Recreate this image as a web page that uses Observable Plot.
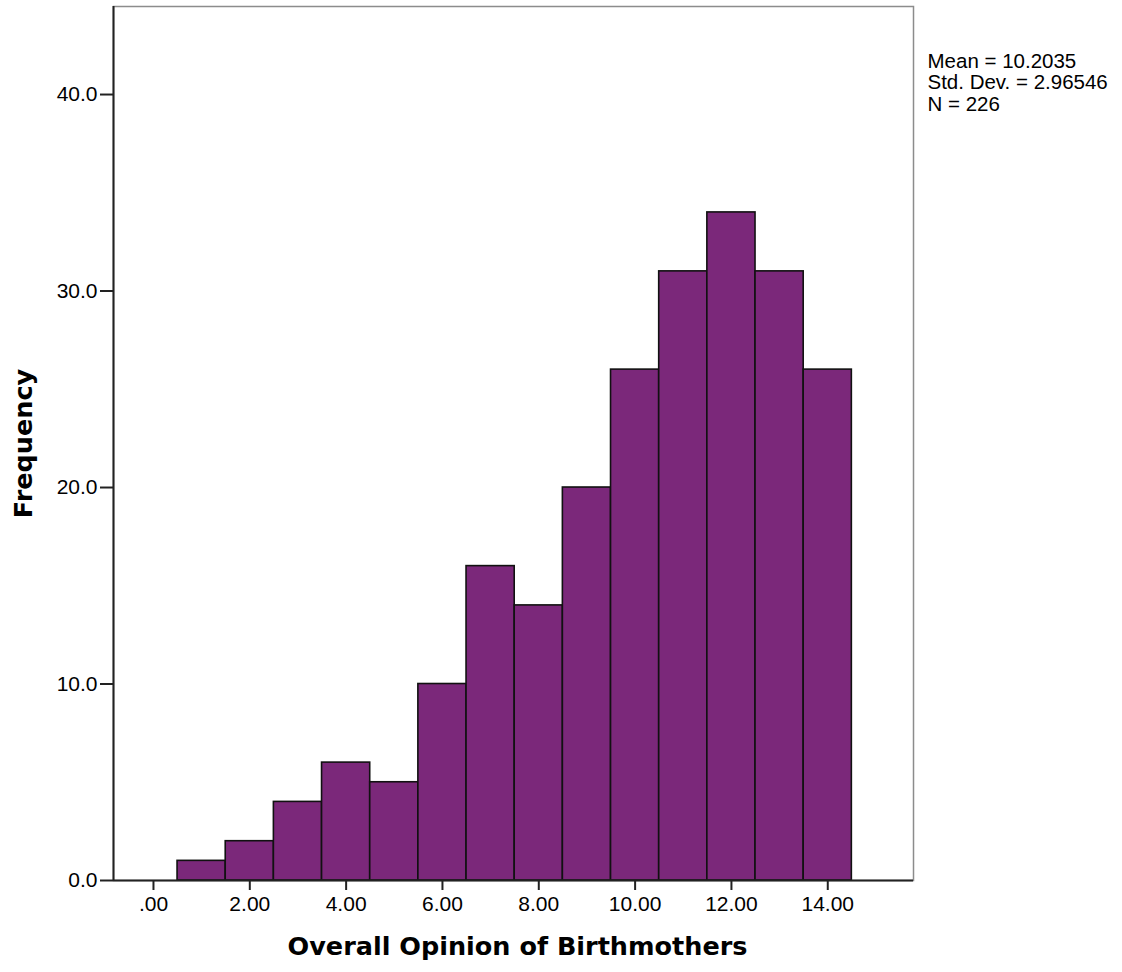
<!DOCTYPE html>
<html>
<head>
<meta charset="utf-8">
<script src="https://cdn.jsdelivr.net/npm/d3@7"></script>
<script src="https://cdn.jsdelivr.net/npm/@observablehq/plot@0.6"></script>
<style>
  html, body { margin: 0; padding: 0; background: #fff; }
  #chart svg { display: block; }
</style>
</head>
<body>
<div id="chart"></div>
<script>
// Histogram bins (centre of each unit-wide bin) and frequencies
const binCenters = [1, 2, 3, 4, 5, 6, 7, 8, 9, 10, 11, 12, 13, 14];
const counts     = [1, 2, 4, 6, 5, 10, 16, 14, 20, 26, 31, 34, 31, 26];
const binWidth = 1;

const xTicks = [0, 2, 4, 6, 8, 10, 12, 14];
const yTicks = [0, 10, 20, 30, 40];
const xLabel = "Overall Opinion of Birthmothers";
const yLabel = "Frequency";
const statsLines = ["Mean = 10.2035", "Std. Dev. = 2.96546", "N = 226"];

const bins = binCenters.map((c, i) => ({x1: c - binWidth / 2, x2: c + binWidth / 2, count: counts[i]}));

const fmtX = d => d === 0 ? ".00" : d.toFixed(2);
const fmtY = d => d.toFixed(1);

const chart = Plot.plot({
  width: 1122,
  height: 972,
  marginLeft: 113,
  marginRight: 209,
  marginTop: 6,
  marginBottom: 92,
  style: {fontFamily: "'Liberation Sans', Arial, sans-serif", fontSize: "21px", background: "#fff", color: "#000"},
  x: {domain: [-0.83, 15.78], label: null},
  y: {domain: [0, 44.48], label: null},
  marks: [
    Plot.frame({stroke: "#8c8c8c", strokeWidth: 1.5}),
    Plot.rectY(bins, {x1: "x1", x2: "x2", y: "count", fill: "#7b287a", stroke: "#111", strokeWidth: 1.6}),
    Plot.ruleX([-0.83], {stroke: "#222", strokeWidth: 2}),
    Plot.ruleY([0], {stroke: "#222", strokeWidth: 2}),
    Plot.axisX({ticks: xTicks, tickFormat: fmtX, tickSize: 10, tickPadding: 6, fontSize: 21, stroke: "#222", strokeWidth: 2, label: null}),
    Plot.axisY({ticks: yTicks, tickFormat: fmtY, tickSize: 13, tickPadding: 3, fontSize: 21, stroke: "#222", strokeWidth: 2, label: null}),
    Plot.text([xLabel], {frameAnchor: "bottom", text: d => d, dy: 66.5, dx: 4, lineAnchor: "middle", textAnchor: "middle",
      fontFamily: "'DejaVu Sans', Verdana, sans-serif", fontWeight: "bold", fontSize: 25.5, fill: "#000"}),
    Plot.text([yLabel], {frameAnchor: "left", text: d => d, rotate: -90, dx: -90, dy: 0, lineAnchor: "middle", textAnchor: "middle",
      fontFamily: "'DejaVu Sans', Verdana, sans-serif", fontWeight: "bold", fontSize: 25.5, fill: "#000"}),
    Plot.text([statsLines.join("\n")], {frameAnchor: "top-right", text: d => d, dx: 14, dy: 46,
      textAnchor: "start", lineAnchor: "top", lineHeight: 1.05, fontSize: 20.5, fill: "#000"})
  ]
});

document.getElementById("chart").appendChild(chart);
</script>
</body>
</html>
